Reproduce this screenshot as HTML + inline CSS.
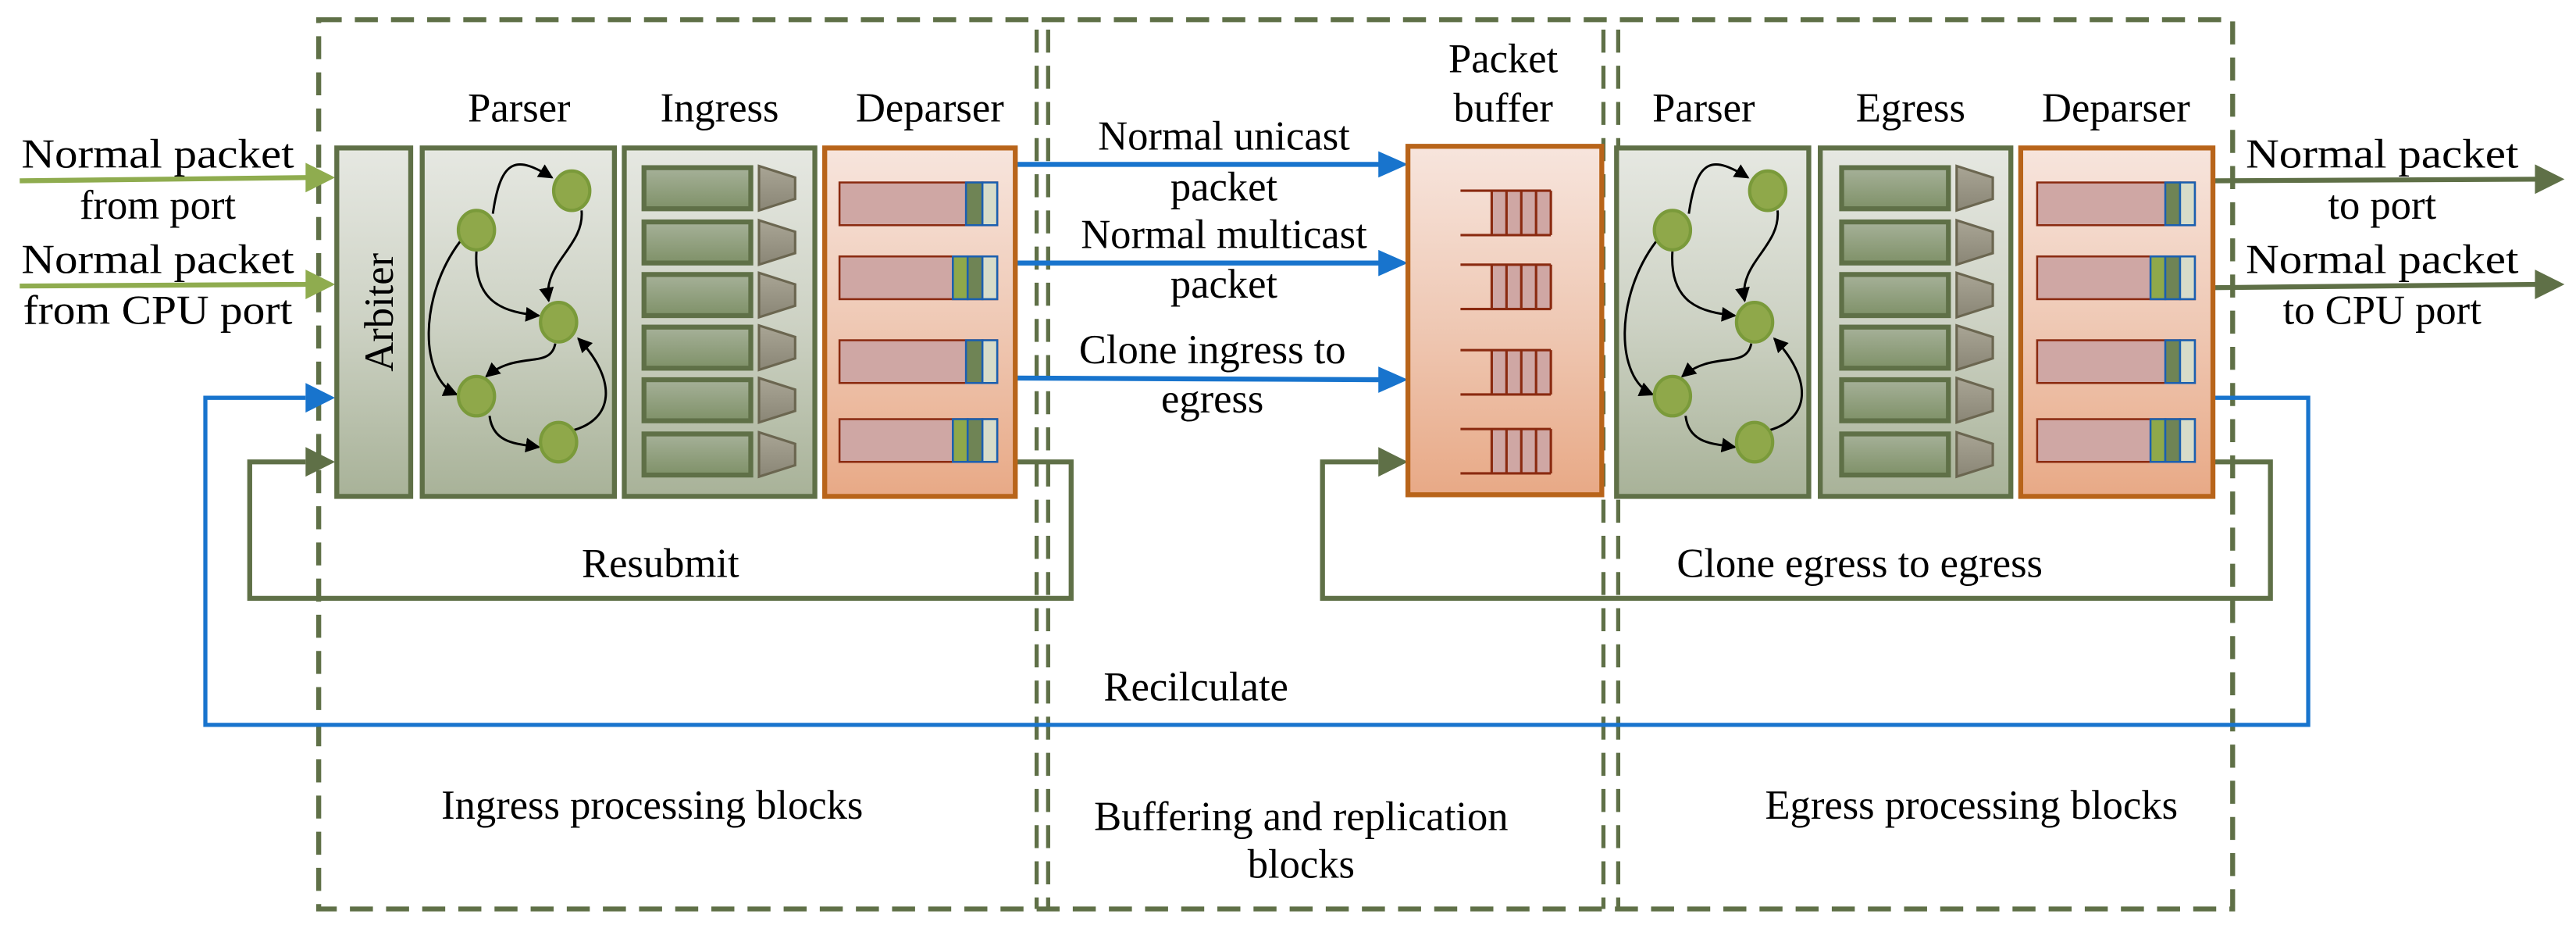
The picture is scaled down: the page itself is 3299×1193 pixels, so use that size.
<!DOCTYPE html>
<html><head><meta charset="utf-8"><style>
html,body{margin:0;padding:0;background:#fff;}
svg{display:block;}
text{font-family:"Liberation Serif",serif;fill:#000;}
</style></head><body>
<svg width="3299" height="1193" viewBox="0 0 1568 567" xmlns="http://www.w3.org/2000/svg">
<defs>
<linearGradient id="gg" x1="0" y1="0" x2="0" y2="1"><stop offset="0" stop-color="#e6e8e2"/><stop offset="0.5" stop-color="#cdd2c4"/><stop offset="1" stop-color="#a8b298"/></linearGradient>
<linearGradient id="og" x1="0" y1="0" x2="0" y2="1"><stop offset="0" stop-color="#f7e5dd"/><stop offset="0.5" stop-color="#efc9b5"/><stop offset="1" stop-color="#e8a986"/></linearGradient>
<linearGradient id="rg" x1="0" y1="0" x2="0" y2="1"><stop offset="0" stop-color="#a6b199"/><stop offset="1" stop-color="#7f9168"/></linearGradient>
<linearGradient id="tg" x1="0" y1="0" x2="0" y2="1"><stop offset="0" stop-color="#a9a595"/><stop offset="1" stop-color="#8a8676"/></linearGradient>
<marker id="ah" markerWidth="9" markerHeight="9" refX="8" refY="4.5" orient="auto" markerUnits="userSpaceOnUse"><path d="M0,0 L9,4.5 L0,9 Z" fill="#000"/></marker>
<g id="parser">
  <path d="M300,130 C305,95 315,95 336,108" fill="none" stroke="#000" stroke-width="1.4" marker-end="url(#ah)"/>
  <path d="M354,128 C356,150 330,160 334,183" fill="none" stroke="#000" stroke-width="1.4" marker-end="url(#ah)"/>
  <path d="M290,153 C288,185 308,190 328,192" fill="none" stroke="#000" stroke-width="1.4" marker-end="url(#ah)"/>
  <path d="M338,209 C335,225 315,213 296,229" fill="none" stroke="#000" stroke-width="1.4" marker-end="url(#ah)"/>
  <path d="M280,147 C255,180 255,230 278,240" fill="none" stroke="#000" stroke-width="1.4" marker-end="url(#ah)"/>
  <path d="M298,253 C300,270 315,270 328,272" fill="none" stroke="#000" stroke-width="1.4" marker-end="url(#ah)"/>
  <path d="M348,262 C375,255 375,230 352,206" fill="none" stroke="#000" stroke-width="1.4" marker-end="url(#ah)"/>
  <g fill="#8fa84a" stroke="#7a9a3a" stroke-width="2">
    <ellipse cx="348" cy="116" rx="11" ry="12"/><ellipse cx="290" cy="140" rx="11" ry="12"/>
    <ellipse cx="340" cy="196" rx="11" ry="12"/><ellipse cx="290" cy="241" rx="11" ry="12"/>
    <ellipse cx="340" cy="269" rx="11" ry="12"/>
  </g>
</g>
</defs>

<g fill="none" stroke="#5f7047" stroke-width="3" stroke-dasharray="14,8">
  <path d="M194,12 H1359 V553 H194 Z"/>
  <path d="M631,18 V553" stroke-width="2.5"/><path d="M638,18 V553" stroke-width="2.5"/>
  <path d="M976,18 V553" stroke-width="2.5"/><path d="M985,18 V553" stroke-width="2.5"/>
</g>

<path d="M618,281 H652 V364 H152 V281 H186" fill="none" stroke="#5f7047" stroke-width="3"/>
<polygon points="186,272 204,281 186,290" fill="#5f7047"/>
<path d="M1347,281 H1382 V364 H805 V281 H839" fill="none" stroke="#5f7047" stroke-width="3"/>
<polygon points="839,272 857,281 839,290" fill="#5f7047"/>
<path d="M1347,242 H1405 V441 H125 V242 H186" fill="none" stroke="#1874cd" stroke-width="2.5"/>
<polygon points="186,233 204,242 186,251" fill="#1874cd"/>

<path d="M12,110 L188,108" stroke="#8fac4f" stroke-width="3"/>
<polygon points="186,99 204,108 186,117" fill="#8fac4f"/>
<path d="M12,174 L188,173" stroke="#8fac4f" stroke-width="3"/>
<polygon points="186,164 204,173 186,182" fill="#8fac4f"/>

<path d="M1347,110 L1545,109" stroke="#5f7047" stroke-width="3"/>
<polygon points="1543,100 1561,109 1543,118" fill="#5f7047"/>
<path d="M1347,175 L1545,173" stroke="#5f7047" stroke-width="3"/>
<polygon points="1543,164 1561,173 1543,182" fill="#5f7047"/>

<path d="M618,100 L841,100" stroke="#1874cd" stroke-width="3"/><polygon points="839,92 857,100 839,108" fill="#1874cd"/>
<path d="M618,160 L841,160" stroke="#1874cd" stroke-width="3"/><polygon points="839,152 857,160 839,168" fill="#1874cd"/>
<path d="M618,230 L841,231" stroke="#1874cd" stroke-width="3"/><polygon points="839,223 857,231 839,239" fill="#1874cd"/>

<rect x="205" y="90" width="45" height="212" fill="url(#gg)" stroke="#5f7047" stroke-width="3"/>
<text x="0" y="0" font-size="25" text-anchor="middle" transform="translate(239,190) rotate(-90)">Arbiter</text>

<rect x="257" y="90" width="117" height="212" fill="url(#gg)" stroke="#5f7047" stroke-width="3"/>
<use href="#parser"/>
<rect x="380" y="90" width="116" height="212" fill="url(#gg)" stroke="#5f7047" stroke-width="3"/>
<g id="ingrows">
<g stroke="#5f7047" stroke-width="3" fill="url(#rg)">
<rect x="392" y="102" width="65" height="25"/><rect x="392" y="135" width="65" height="25"/>
<rect x="392" y="167" width="65" height="25"/><rect x="392" y="199" width="65" height="25"/>
<rect x="392" y="231" width="65" height="25"/><rect x="392" y="264" width="65" height="25"/>
</g>
<g stroke="#6b6650" stroke-width="1.5" fill="url(#tg)">
<polygon points="462,101 484,108 484,121 462,128"/><polygon points="462,134 484,141 484,154 462,161"/>
<polygon points="462,166 484,173 484,186 462,193"/><polygon points="462,198 484,205 484,218 462,225"/>
<polygon points="462,230 484,237 484,250 462,257"/><polygon points="462,263 484,270 484,283 462,290"/>
</g>
</g>
<rect x="502" y="90" width="116" height="212" fill="url(#og)" stroke="#b8641a" stroke-width="3"/>
<g stroke-width="1.2">
<rect x="511" y="111" width="96" height="26" fill="#cfa7a4" stroke="#8a2a10"/>
<rect x="588" y="111" width="10" height="26" fill="#6f8455" stroke="#1a5fb0"/><rect x="598" y="111" width="9" height="26" fill="#d7dcc9" stroke="#1a5fb0"/>
<rect x="511" y="156" width="96" height="26" fill="#cfa7a4" stroke="#8a2a10"/>
<rect x="580" y="156" width="9" height="26" fill="#8fa84a" stroke="#1a5fb0"/><rect x="589" y="156" width="9" height="26" fill="#6f8455" stroke="#1a5fb0"/><rect x="598" y="156" width="9" height="26" fill="#d7dcc9" stroke="#1a5fb0"/>
<rect x="511" y="207" width="96" height="26" fill="#cfa7a4" stroke="#8a2a10"/>
<rect x="588" y="207" width="10" height="26" fill="#6f8455" stroke="#1a5fb0"/><rect x="598" y="207" width="9" height="26" fill="#d7dcc9" stroke="#1a5fb0"/>
<rect x="511" y="255" width="96" height="26" fill="#cfa7a4" stroke="#8a2a10"/>
<rect x="580" y="255" width="9" height="26" fill="#8fa84a" stroke="#1a5fb0"/><rect x="589" y="255" width="9" height="26" fill="#6f8455" stroke="#1a5fb0"/><rect x="598" y="255" width="9" height="26" fill="#d7dcc9" stroke="#1a5fb0"/>
</g>

<rect x="857" y="89" width="118" height="212" fill="url(#og)" stroke="#b8641a" stroke-width="3"/>
<g id="q" stroke="#8a2a10" stroke-width="1.5">
<rect x="908" y="116" width="36" height="27" fill="#cfa7a4" stroke="none"/>
<path d="M889,116 H944 M889,143 H944 M908,116 V143 M917,116 V143 M926,116 V143 M935,116 V143 M944,116 V143" fill="none"/>
</g>
<use href="#q" transform="translate(0,45)"/><use href="#q" transform="translate(0,97)"/><use href="#q" transform="translate(0,145)"/>

<rect x="984" y="90" width="117" height="212" fill="url(#gg)" stroke="#5f7047" stroke-width="3"/>
<use href="#parser" transform="translate(728,0)"/>
<rect x="1108" y="90" width="116" height="212" fill="url(#gg)" stroke="#5f7047" stroke-width="3"/>
<use href="#ingrows" transform="translate(729,0)"/>
<rect x="1230" y="90" width="117" height="212" fill="url(#og)" stroke="#b8641a" stroke-width="3"/>
<g stroke-width="1.2">
<rect x="1240" y="111" width="96" height="26" fill="#cfa7a4" stroke="#8a2a10"/>
<rect x="1318" y="111" width="9" height="26" fill="#6f8455" stroke="#1a5fb0"/><rect x="1327" y="111" width="9" height="26" fill="#d7dcc9" stroke="#1a5fb0"/>
<rect x="1240" y="156" width="96" height="26" fill="#cfa7a4" stroke="#8a2a10"/>
<rect x="1309" y="156" width="9" height="26" fill="#8fa84a" stroke="#1a5fb0"/><rect x="1318" y="156" width="9" height="26" fill="#6f8455" stroke="#1a5fb0"/><rect x="1327" y="156" width="9" height="26" fill="#d7dcc9" stroke="#1a5fb0"/>
<rect x="1240" y="207" width="96" height="26" fill="#cfa7a4" stroke="#8a2a10"/>
<rect x="1318" y="207" width="9" height="26" fill="#6f8455" stroke="#1a5fb0"/><rect x="1327" y="207" width="9" height="26" fill="#d7dcc9" stroke="#1a5fb0"/>
<rect x="1240" y="255" width="96" height="26" fill="#cfa7a4" stroke="#8a2a10"/>
<rect x="1309" y="255" width="9" height="26" fill="#8fa84a" stroke="#1a5fb0"/><rect x="1318" y="255" width="9" height="26" fill="#6f8455" stroke="#1a5fb0"/><rect x="1327" y="255" width="9" height="26" fill="#d7dcc9" stroke="#1a5fb0"/>
</g>

<g font-size="25" text-anchor="middle">
<text x="316" y="74">Parser</text>
<text x="438" y="74">Ingress</text>
<text x="566" y="74">Deparser</text>
<text x="915" y="44">Packet</text>
<text x="915" y="74">buffer</text>
<text x="1037" y="74">Parser</text>
<text x="1163" y="74">Egress</text>
<text x="1288" y="74">Deparser</text>
<text x="96" y="102" textLength="166" lengthAdjust="spacingAndGlyphs">Normal packet</text>
<text x="96" y="133">from port</text>
<text x="96" y="166" textLength="166" lengthAdjust="spacingAndGlyphs">Normal packet</text>
<text x="96" y="197" textLength="164" lengthAdjust="spacingAndGlyphs">from CPU port</text>
<text x="745" y="91">Normal unicast</text>
<text x="745" y="122">packet</text>
<text x="745" y="151">Normal multicast</text>
<text x="745" y="181">packet</text>
<text x="738" y="221">Clone ingress to</text>
<text x="738" y="251">egress</text>
<text x="1450" y="102" textLength="166" lengthAdjust="spacingAndGlyphs">Normal packet</text>
<text x="1450" y="133">to port</text>
<text x="1450" y="166" textLength="166" lengthAdjust="spacingAndGlyphs">Normal packet</text>
<text x="1450" y="197">to CPU port</text>
<text x="402" y="351">Resubmit</text>
<text x="1132" y="351">Clone egress to egress</text>
<text x="728" y="426">Recilculate</text>
<text x="397" y="498">Ingress  processing blocks</text>
<text x="792" y="505">Buffering and replication</text>
<text x="792" y="534">blocks</text>
<text x="1200" y="498">Egress  processing blocks</text>
</g>
</svg>
</body></html>
